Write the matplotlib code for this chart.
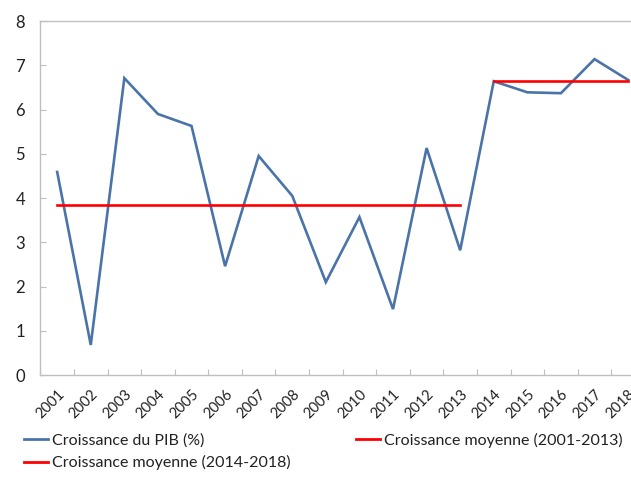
import matplotlib.pyplot as plt
from matplotlib.lines import Line2D

plt.rcParams['font.family'] = ['Lato', 'DejaVu Sans']

annees = [str(a) for a in range(2001, 2019)]
croissance_pib = [4.59, 0.68, 6.71, 5.90, 5.63, 2.46, 4.95, 4.05, 2.10,
                  3.57, 1.49, 5.13, 2.82, 6.64, 6.39, 6.37, 7.14, 6.67]
moyenne_2001_2013 = 3.85
moyenne_2014_2018 = 6.64

bleu = '#4A74A8'
rouge = '#FF0000'
gris = '#BFBFBF'

fig = plt.figure(figsize=(6.31, 4.79), dpi=100)
ax = fig.add_axes([0.064, 0.217, 0.958, 0.739])

x = list(range(len(annees)))
ax.plot(x, croissance_pib, color=bleu, lw=1.9, solid_joinstyle='miter')
ax.plot(x[:13], [moyenne_2001_2013] * 13, color=rouge, lw=1.9)
ax.plot(x[13:], [moyenne_2014_2018] * 5, color=rouge, lw=1.9)

ax.set_xlim(-0.5, len(annees) - 0.5)
ax.set_ylim(0, 8)
ax.set_yticks(range(0, 9))
ax.tick_params(axis='y', direction='in', length=4, color=gris, pad=11,
               labelsize=12, labelcolor='#222222')

# categories: ticks between the years, labels centred under each year
ax.set_xticks([i - 0.5 for i in range(len(annees) + 1)], minor=False)
ax.set_xticklabels([])
ax.set_xticks(x, minor=True)
ax.set_xticklabels(annees, minor=True, rotation=45, ha='right',
                   rotation_mode='anchor', fontsize=10.5, color='#222222')
ax.tick_params(axis='x', which='major', direction='in', length=4, color=gris)
ax.tick_params(axis='x', which='minor', length=0, pad=9)

for s in ['left', 'bottom', 'top']:
    ax.spines[s].set_color(gris)
    ax.spines[s].set_linewidth(1.0)
ax.spines['right'].set_visible(False)

poignees = [
    Line2D([], [], color=bleu, lw=2, label='Croissance du PIB (%)'),
    Line2D([], [], color=rouge, lw=2, label='Croissance moyenne (2014-2018)'),
    Line2D([], [], color=rouge, lw=2, label='Croissance moyenne (2001-2013)'),
]
fig.legend(handles=poignees, ncol=2, loc='lower left',
           bbox_to_anchor=(0.02, -0.005), frameon=False, fontsize=11.5,
           handlelength=1.5, handletextpad=0.25, columnspacing=4.1,
           labelspacing=0.45, borderaxespad=0.3, labelcolor='#222222')

fig.savefig('out.png', dpi=100)
